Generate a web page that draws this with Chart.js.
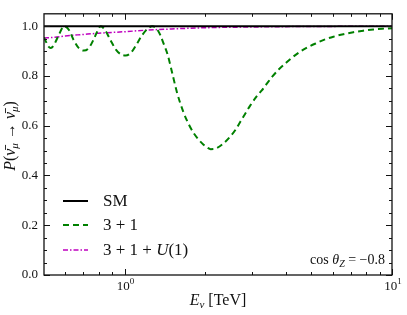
<!DOCTYPE html>
<html>
<head>
<meta charset="utf-8">
<script src="https://cdn.jsdelivr.net/npm/chart.js@4"></script>
<style>
  html, body { margin: 0; padding: 0; background: #fff; }
  #wrap { width: 407px; height: 315px; }
</style>
</head>
<body>
<div id="wrap"><canvas id="chart"></canvas></div>
<script>
// energies in TeV and survival probabilities
const energySM = [0.5, 10]
const probSM = [1, 1]

const energyS = [0.5, 0.51, 0.52, 0.53, 0.545, 0.565, 0.595, 0.62, 0.645, 0.675, 0.705, 0.735, 0.765, 0.79, 0.815,
  0.845, 0.885, 0.93, 0.97, 1.01, 1.06, 1.11, 1.16, 1.22, 1.27, 1.32, 1.36, 1.40, 1.45, 1.49, 1.57, 1.66, 1.74,
  1.81, 1.89, 1.97, 2.04, 2.1, 2.2, 2.35, 2.49, 2.6, 2.71, 2.83, 2.95, 3.13, 3.26, 3.41, 3.56, 3.77, 3.99, 4.22,
  4.54, 4.87, 5.24, 5.62, 6.04, 6.58, 7.17, 7.81, 8.51, 9.2, 10]
const probS = [0.955, 0.935, 0.918, 0.913, 0.925, 0.96, 1.0, 0.985, 0.945, 0.912, 0.902, 0.912, 0.945, 0.978, 1.0,
  0.985, 0.945, 0.905, 0.887, 0.882, 0.895, 0.928, 0.962, 0.99, 1.0, 0.99, 0.965, 0.93, 0.885, 0.835, 0.735, 0.655, 0.605,
  0.572, 0.545, 0.525, 0.512, 0.506, 0.509, 0.53, 0.558, 0.584, 0.616, 0.649, 0.681, 0.72, 0.742, 0.77, 0.796, 0.826, 0.85, 0.873,
  0.898, 0.917, 0.933, 0.947, 0.958, 0.968, 0.976, 0.982, 0.987, 0.99, 0.992]

const energyU = [0.5, 0.55, 0.6, 0.7, 0.8, 0.9, 1.0, 1.2, 1.5, 2.0, 3.0, 5.0, 10]
const probU = [0.953, 0.956, 0.961, 0.967, 0.972, 0.975, 0.978, 0.984, 0.989, 0.994, 0.997, 0.999, 1.0]

const xMajor = [1, 10]
const xMajorExp = ['0', '1']
const xMinor = [0.6, 0.7, 0.8, 0.9, 2, 3, 4, 5, 6, 7, 8, 9]
const yMajor = [0, 0.2, 0.4, 0.6, 0.8, 1.0]
const yMinor = [0.05, 0.1, 0.15, 0.25, 0.3, 0.35, 0.45, 0.5, 0.55, 0.65, 0.7, 0.75, 0.85, 0.9, 0.95]

const serif = '"Liberation Serif", "DejaVu Serif", serif'
const ink = '#111'

function pts(xs, ys) { return xs.map((x, i) => ({ x: x, y: ys[i] })) }

// draw a run of text pieces: [text, size, italic, dy]
function runWidth(ctx, parts) {
  let w = 0
  parts.forEach(p => { ctx.font = (p[2] ? 'italic ' : '') + p[1] + 'px ' + serif; w += ctx.measureText(p[0]).width })
  return w
}
function drawRun(ctx, parts, x, y) {
  parts.forEach(p => {
    ctx.font = (p[2] ? 'italic ' : '') + p[1] + 'px ' + serif
    ctx.fillText(p[0], x, y + (p[3] || 0))
    x += ctx.measureText(p[0]).width
  })
}

const decor = {
  id: 'decor',
  afterDatasetsDraw(chart) {
    const ctx = chart.ctx
    const a = chart.chartArea
    const xs = chart.scales.x, ys = chart.scales.y
    ctx.save()
    ctx.strokeStyle = ink
    ctx.lineWidth = 1
    ctx.beginPath()
    xMajor.concat(xMinor).forEach(v => {
      const px = Math.round(xs.getPixelForValue(v)) + 0.5
      const len = xMajor.includes(v) ? 6 : 3
      ctx.moveTo(px, a.bottom); ctx.lineTo(px, a.bottom - len)
      ctx.moveTo(px, a.top); ctx.lineTo(px, a.top + len)
    })
    yMajor.concat(yMinor).forEach(v => {
      const py = Math.round(ys.getPixelForValue(v)) + 0.5
      const len = yMajor.includes(v) ? 6 : 3
      ctx.moveTo(a.left, py); ctx.lineTo(a.left + len, py)
      ctx.moveTo(a.right, py); ctx.lineTo(a.right - len, py)
    })
    ctx.stroke()
    ctx.lineWidth = 1.3
    ctx.strokeRect(a.left, a.top, a.right - a.left, a.bottom - a.top)

    ctx.fillStyle = ink
    // x tick labels 10^n
    xMajor.forEach((v, i) => {
      const lab = [['10', 13, false], [xMajorExp[i], 9, false, -6]]
      drawRun(ctx, lab, xs.getPixelForValue(v) - runWidth(ctx, lab) / 2 + 1, a.bottom + 15)
    })

    // legend
    const names = [
      [['SM', 17, false]],
      [['3 + 1', 17, false]],
      [['3 + 1 + ', 17, false], ['U', 17, true], ['(1)', 17, false]]
    ]
    const rows = [201, 225, 250]
    chart.data.datasets.forEach((ds, i) => {
      ctx.strokeStyle = ds.borderColor
      ctx.lineWidth = ds.borderWidth
      ctx.setLineDash(ds.borderDash || [])
      ctx.beginPath()
      ctx.moveTo(63, rows[i]); ctx.lineTo(88, rows[i])
      ctx.stroke()
      ctx.setLineDash([])
      ctx.textBaseline = 'middle'
      drawRun(ctx, names[i], 103, rows[i] + 1)
    })

    // annotation
    ctx.textBaseline = 'alphabetic'
    const note = [['cos ', 14, false], ['θ', 14, true], ['Z', 10, true, 3], [' = −0.8', 14, false]]
    drawRun(ctx, note, a.right - 7 - runWidth(ctx, note), a.bottom - 11)

    // axis titles
    const xt = [['E', 16, true], ['ν', 11, true, 3], [' [TeV]', 16, false]]
    drawRun(ctx, xt, (a.left + a.right) / 2 - runWidth(ctx, xt) / 2, 305)

    const yt = [['P', 16, true], ['(', 16, false], ['ν\u0304', 16, true], ['μ', 11, true, 3],
      [' → ', 16, false], ['ν\u0304', 16, true], ['μ', 11, true, 3], [')', 16, false]]
    ctx.translate(15, 136)
    ctx.rotate(-Math.PI / 2)
    drawRun(ctx, yt, -runWidth(ctx, yt) / 2, 0)
    ctx.restore()
  }
}

new Chart('chart', {
  type: 'line',
  data: {
    datasets: [
      {
        label: 'SM',
        data: pts(energySM, probSM),
        borderColor: '#000',
        borderWidth: 2
      },
      {
        label: '3+1',
        data: pts(energyS, probS),
        borderColor: '#008000',
        borderWidth: 2,
        borderDash: [6, 4],
        cubicInterpolationMode: 'monotone'
      },
      {
        label: '3+1+U(1)',
        data: pts(energyU, probU),
        borderColor: '#bf00bf',
        borderWidth: 1.5,
        borderDash: [5, 2, 1.5, 2],
        cubicInterpolationMode: 'monotone'
      }
    ]
  },
  options: {
    responsive: true,
    maintainAspectRatio: false,
    animation: false,
    elements: { point: { radius: 0 } },
    layout: { padding: { top: 5, right: 15, left: 0, bottom: 0 } },
    plugins: { legend: { display: false }, tooltip: { enabled: false } },
    scales: {
      x: {
        type: 'logarithmic',
        min: 0.5,
        max: 10,
        grid: { display: false, drawTicks: false },
        border: { display: false },
        afterBuildTicks: s => { s.ticks = xMajor.map(v => ({ value: v })) },
        afterFit: s => { s.height = 40 },
        ticks: { display: false }
      },
      y: {
        min: 0,
        max: 1.05,
        grid: { display: false, drawTicks: false },
        border: { display: false },
        afterBuildTicks: s => { s.ticks = yMajor.map(v => ({ value: v })) },
        afterFit: s => { s.width = 44 },
        ticks: {
          padding: 6,
          color: ink,
          font: { family: serif, size: 13 },
          callback: v => v.toFixed(1)
        }
      }
    }
  },
  plugins: [decor]
})
</script>
</body>
</html>
